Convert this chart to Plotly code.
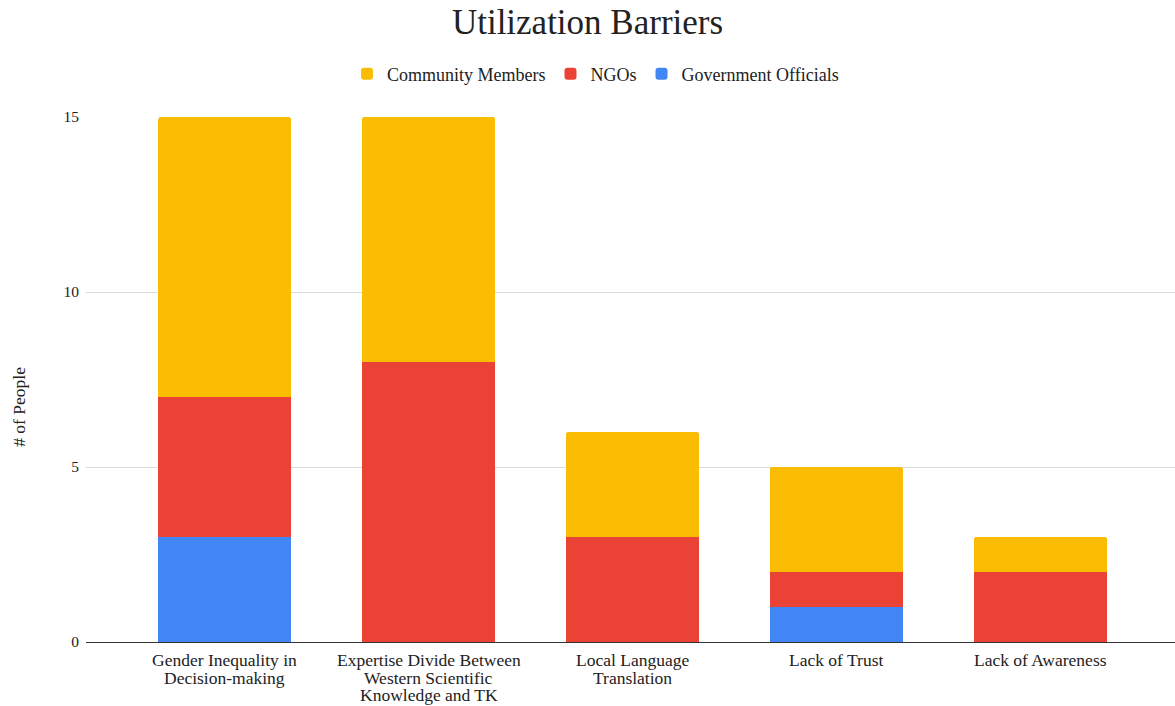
import plotly.graph_objects as go

# Barrier categories (one line per list entry in the axis label)
categories = [
    "Gender Inequality in Decision-making",
    "Expertise Divide Between Western Scientific Knowledge and TK",
    "Local Language Translation",
    "Lack of Trust",
    "Lack of Awareness",
]
label_lines = [
    ["Gender Inequality in", "Decision-making"],
    ["Expertise Divide Between", "Western Scientific", "Knowledge and TK"],
    ["Local Language", "Translation"],
    ["Lack of Trust"],
    ["Lack of Awareness"],
]

# Respondent counts per group
government_officials = [3, 0, 0, 1, 0]
ngos = [4, 8, 3, 1, 2]
community_members = [8, 7, 3, 3, 1]

y_ticks = [0, 5, 10, 15]

FONT = "Liberation Serif, Times New Roman, serif"
TEXT = "#222222"

fig = go.Figure()
series = [
    ("Government Officials", government_officials, "#4285F4"),
    ("NGOs", ngos, "#EA4335"),
    ("Community Members", community_members, "#FBBC04"),
]
for name, vals, color in series:
    fig.add_trace(go.Bar(
        name=name, x=categories, y=vals,
        marker=dict(color=color, line=dict(width=0)),
    ))

# Category labels drawn line by line for tight line spacing
annotations = []
for cat, lines in zip(categories, label_lines):
    for i, line in enumerate(lines):
        annotations.append(dict(
            x=cat, y=0, xref="x", yref="y", text=line, showarrow=False,
            yanchor="top", xanchor="center", yshift=-6 - 17.6 * i,
            font=dict(family=FONT, size=17.5, color=TEXT),
        ))

annotations.append(dict(
    text="# of People", xref="paper", yref="paper", x=0, y=0.448,
    xshift=-67, textangle=-90, showarrow=False,
    xanchor="center", yanchor="middle",
    font=dict(family=FONT, size=17.5, color=TEXT),
))

fig.update_layout(
    width=1175, height=706,
    barmode="stack", bargap=0.35, barcornerradius=2,
    plot_bgcolor="white", paper_bgcolor="white",
    margin=dict(l=86, r=0, t=117, b=64),
    font=dict(family=FONT, color=TEXT),
    title=dict(
        text="Utilization Barriers", x=0.5, xanchor="center",
        y=1 - 22 / 706, yanchor="middle",
        font=dict(family=FONT, size=35, color=TEXT),
    ),
    legend=dict(
        orientation="h", x=(347 - 86) / 1089, xanchor="left",
        y=1.082, yanchor="middle",
        traceorder="reversed", font=dict(family=FONT, size=18, color=TEXT),
    ),
    xaxis=dict(
        showticklabels=False, showgrid=False, range=[-0.68, 4.66],
        showline=True, linecolor="#333333", linewidth=1, ticks="",
    ),
    yaxis=dict(
        range=[0, 15], tickvals=y_ticks, showgrid=True,
        gridcolor="#dddddd", gridwidth=1, zeroline=False,
        tickfont=dict(family=FONT, size=15.5, color=TEXT),
        ticks="", ticklabelstandoff=6,
    ),
    annotations=annotations,
)

fig.write_html("out.html")
